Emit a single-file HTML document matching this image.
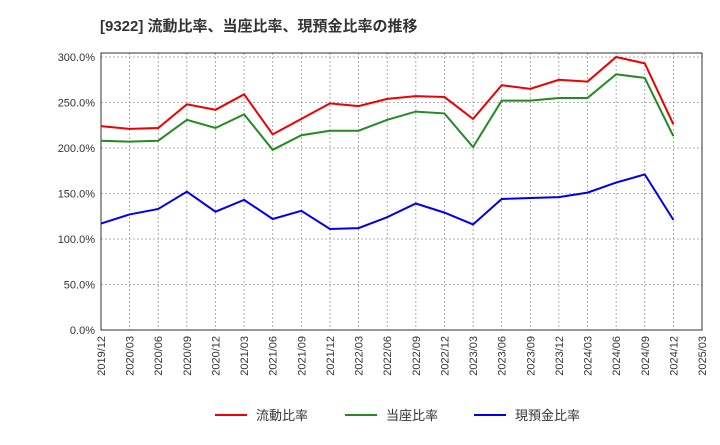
<!DOCTYPE html>
<html><head><meta charset="utf-8"><style>
body{margin:0;background:#fff;font-family:"Liberation Sans","Noto Sans CJK JP",sans-serif}
</style></head><body>
<svg width="720" height="440" xmlns="http://www.w3.org/2000/svg">
<text x="100" y="31" font-size="15" font-weight="bold" fill="#333" font-family="Liberation Sans, Noto Sans CJK JP, sans-serif">[9322]  流動比率、当座比率、現預金比率の推移</text>
<g id="grid"></g><g id="axes"></g><g id="series"></g>
<g id="legend" font-size="13" font-family="Liberation Sans, Noto Sans CJK JP, sans-serif"></g>
</svg>
<script>
const categories=["2019/12","2020/03","2020/06","2020/09","2020/12","2021/03","2021/06","2021/09","2021/12","2022/03","2022/06","2022/09","2022/12","2023/03","2023/06","2023/09","2023/12","2024/03","2024/06","2024/09","2024/12","2025/03"];
const currentRatio=[224,221,222,248,242,259,215,232,249,246,254,257,256,232,269,265,275,273,300,293,226];
const quickRatio=[208,207,208,231,222,237,198,214,219,219,231,240,238,201,252,252,255,255,281,277,213];
const cashRatio=[117,127,133,152,130,143,122,131,111,112,124,139,129,116,144,145,146,151,162,171,121];
const yTicks=[0,50,100,150,200,250,300];
const yLabels=["0.0%","50.0%","100.0%","150.0%","200.0%","250.0%","300.0%"];
const seriesNames=["流動比率","当座比率","現預金比率"];
const NS="http://www.w3.org/2000/svg";
const L=101,R=702,T=53,B=330;
const x=i=>L+i*(R-L)/(categories.length-1);
const y=v=>B-v*(B-57)/300;
function mk(tag,attrs,parent){const e=document.createElementNS(NS,tag);for(const k in attrs)e.setAttribute(k,attrs[k]);document.getElementById(parent).appendChild(e);return e;}
mk("rect",{x:L,y:T,width:R-L,height:B-T,fill:"none",stroke:"#333","stroke-width":1},"axes");
categories.forEach((c,i)=>{
 const g=mk("line",{x1:x(i),x2:x(i),y1:T,y2:B,stroke:"#999","stroke-dasharray":"2,2","stroke-width":0.8},"grid");
 
 
 const t=mk("text",{x:0,y:0,"font-size":11,fill:"#333","text-anchor":"end",transform:`translate(${x(i)+4},${B+6}) rotate(-90)`},"axes");
 t.textContent=c;
 
 
});
yTicks.forEach((v,i)=>{
 const g=mk("line",{x1:L,x2:R,y1:y(v),y2:y(v),stroke:"#999","stroke-dasharray":"2,2","stroke-width":0.8},"grid");
 
 
 const t=mk("text",{x:L-6,y:y(v)+4,"font-size":11,fill:"#333","text-anchor":"end"},"axes");
 t.textContent=yLabels[i];
 
 
});
const cols=["#e00","#228b22","#00e"];
[currentRatio,quickRatio,cashRatio].forEach((d,s)=>{
 const p=mk("polyline",{points:d.map((v,i)=>x(i)+","+y(v)).join(" "),fill:"none",stroke:cols[s],"stroke-width":2},"series");
 
 
});
const lx=[215,345,474];
seriesNames.forEach((n,s)=>{
 const l=mk("line",{x1:lx[s],x2:lx[s]+32,y1:415,y2:415,stroke:cols[s],"stroke-width":2},"legend");
 
 
 const t=mk("text",{x:lx[s]+41,y:420,fill:"#333"},"legend");
 t.textContent=n;
 
 
});
</script>
</body></html>
